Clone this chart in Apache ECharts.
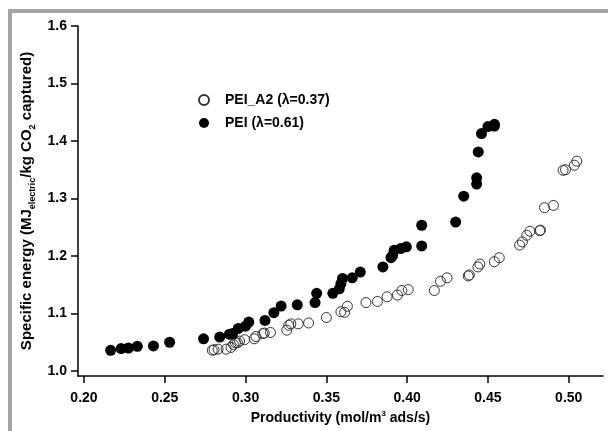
<!DOCTYPE html>
<html>
<head>
<meta charset="utf-8">
<script src="https://cdn.jsdelivr.net/npm/echarts@6/dist/echarts.min.js"></script>
<style>
    html, body { margin: 0; padding: 0; background: #fff; }
    #main { width: 608px; height: 431px; }
</style>
</head>
<body>
<div id="main"></div>
<script>
// PEI (λ=0.61) - filled markers
const peiX = [0.2165, 0.223, 0.2275, 0.233, 0.243, 0.253, 0.274, 0.284, 0.290, 0.292,
    0.2955, 0.300, 0.302, 0.312, 0.3175, 0.322, 0.332, 0.343, 0.344, 0.354,
    0.358, 0.359, 0.360, 0.366, 0.371, 0.385, 0.390, 0.391, 0.392, 0.396,
    0.3995, 0.409, 0.409, 0.430, 0.435, 0.443, 0.443, 0.444, 0.446, 0.450,
    0.454, 0.454];
const peiY = [1.036, 1.039, 1.040, 1.043, 1.0435, 1.050, 1.056, 1.059, 1.064, 1.065,
    1.074, 1.078, 1.085, 1.088, 1.1015, 1.113, 1.115, 1.119, 1.135, 1.135,
    1.143, 1.152, 1.161, 1.162, 1.172, 1.181, 1.197, 1.201, 1.210, 1.213,
    1.216, 1.2175, 1.2535, 1.259, 1.304, 1.325, 1.336, 1.381, 1.413, 1.425,
    1.426, 1.429];

// PEI_A2 (λ=0.37) - open markers
const peiA2X = [0.2794, 0.2805, 0.283, 0.288, 0.291, 0.2925, 0.2937, 0.295, 0.2963, 0.2994,
    0.3054, 0.3064, 0.3107, 0.3116, 0.3154, 0.3255, 0.3267, 0.328, 0.3326, 0.339,
    0.350, 0.359, 0.3613, 0.363, 0.3745, 0.3816, 0.3876, 0.394, 0.3967, 0.4007,
    0.4168, 0.4206, 0.4247, 0.4378, 0.4385, 0.4438, 0.445, 0.454, 0.457, 0.4696,
    0.4713, 0.474, 0.476, 0.482, 0.4825, 0.485, 0.4905, 0.4965, 0.498, 0.5035,
    0.505];
const peiA2Y = [1.036, 1.037, 1.038, 1.038, 1.041, 1.046, 1.049, 1.049, 1.052, 1.0545,
    1.056, 1.060, 1.065, 1.066, 1.067, 1.071, 1.0795, 1.082, 1.082, 1.0835,
    1.093, 1.103, 1.102, 1.1125, 1.119, 1.121, 1.129, 1.132, 1.140, 1.1415,
    1.140, 1.156, 1.162, 1.1653, 1.167, 1.181, 1.186, 1.190, 1.197, 1.219,
    1.2245, 1.236, 1.243, 1.244, 1.245, 1.284, 1.288, 1.349, 1.350, 1.358,
    1.365];

const xTicks = [0.20, 0.25, 0.30, 0.35, 0.40, 0.45, 0.50];
const yTicks = [1.0, 1.1, 1.2, 1.3, 1.4, 1.5, 1.6];

const seriesNames = ['PEI_A2 (λ=0.37)', 'PEI (λ=0.61)'];

const FONT = 'Liberation Sans, Arial, sans-serif';

function pairs(xs, ys) {
    return xs.map((x, i) => [x, ys[i]]);
}

const chart = echarts.init(document.getElementById('main'));

const option = {
    animation: false,
    backgroundColor: '#fff',
    textStyle: { fontFamily: FONT },
    graphic: [
        // grey frame at top and left
        { type: 'rect', shape: { x: 8, y: 9, width: 600, height: 4 }, style: { fill: '#a4a4a4' }, silent: true },
        { type: 'rect', shape: { x: 8, y: 9, width: 4, height: 422 }, style: { fill: '#a4a4a4' }, silent: true }
    ],
    legend: {
        orient: 'vertical',
        left: 193,
        top: 88,
        itemWidth: 10,
        itemHeight: 10,
        itemGap: 9,
        data: seriesNames,
        textStyle: {
            fontFamily: FONT,
            fontSize: 14,
            fontWeight: 'bold',
            color: '#000',
            padding: [0, 0, 0, 11]
        }
    },
    grid: { left: 78, right: 5, top: 26, bottom: 55 },
    xAxis: {
        type: 'value',
        min: 0.1963,
        max: 0.5212,
        splitLine: { show: false },
        axisLine: { onZero: false, lineStyle: { color: '#000', width: 1.5 } },
        axisTick: { show: true, inside: false, length: 7, customValues: xTicks, lineStyle: { color: '#000', width: 1.5 } },
        axisLabel: {
            customValues: xTicks,
            margin: 15,
            color: '#000',
            fontFamily: FONT,
            fontSize: 14,
            fontWeight: 'bold',
            formatter: v => v.toFixed(2)
        },
        name: '{a|Productivity (mol/m}{sup|3}{a| ads/s)}',
        nameLocation: 'middle',
        nameGap: 31,
        nameTextStyle: {
            rich: {
                a: { fontFamily: FONT, fontSize: 14, fontWeight: 'bold', color: '#000', lineHeight: 16 },
                sup: { fontFamily: FONT, fontSize: 8, fontWeight: 'bold', color: '#000', verticalAlign: 'top', lineHeight: 9 }
            }
        }
    },
    yAxis: {
        type: 'value',
        min: 0.9913,
        max: 1.6,
        splitLine: { show: false },
        axisLine: { show: true, onZero: false, lineStyle: { color: '#000', width: 1.5 } },
        axisTick: { show: true, inside: false, length: 7, customValues: yTicks, lineStyle: { color: '#000', width: 1.5 } },
        axisLabel: {
            customValues: yTicks,
            margin: 11,
            color: '#000',
            fontFamily: FONT,
            fontSize: 14,
            fontWeight: 'bold',
            formatter: v => v.toFixed(1)
        },
        name: '{a|Specific energy (MJ}{sub|electric}{a|/kg CO}{sub|2}{a| captured)}',
        nameLocation: 'middle',
        nameGap: 40,
        nameTextStyle: {
            rich: {
                a: { fontFamily: FONT, fontSize: 15, fontWeight: 'bold', color: '#000', lineHeight: 20 },
                sub: { fontFamily: FONT, fontSize: 9, fontWeight: 'bold', color: '#000', verticalAlign: 'bottom', lineHeight: 9 }
            }
        }
    },
    series: [
        {
            name: seriesNames[0],
            type: 'scatter',
            symbol: 'circle',
            symbolSize: 10,
            itemStyle: { color: 'rgba(0,0,0,0)', borderColor: '#333', borderWidth: 1, opacity: 1 },
            data: pairs(peiA2X, peiA2Y)
        },
        {
            name: seriesNames[1],
            type: 'scatter',
            symbol: 'circle',
            symbolSize: 11,
            itemStyle: { color: '#000', opacity: 1 },
            data: pairs(peiX, peiY)
        }
    ]
};

chart.setOption(option);
</script>
</body>
</html>
